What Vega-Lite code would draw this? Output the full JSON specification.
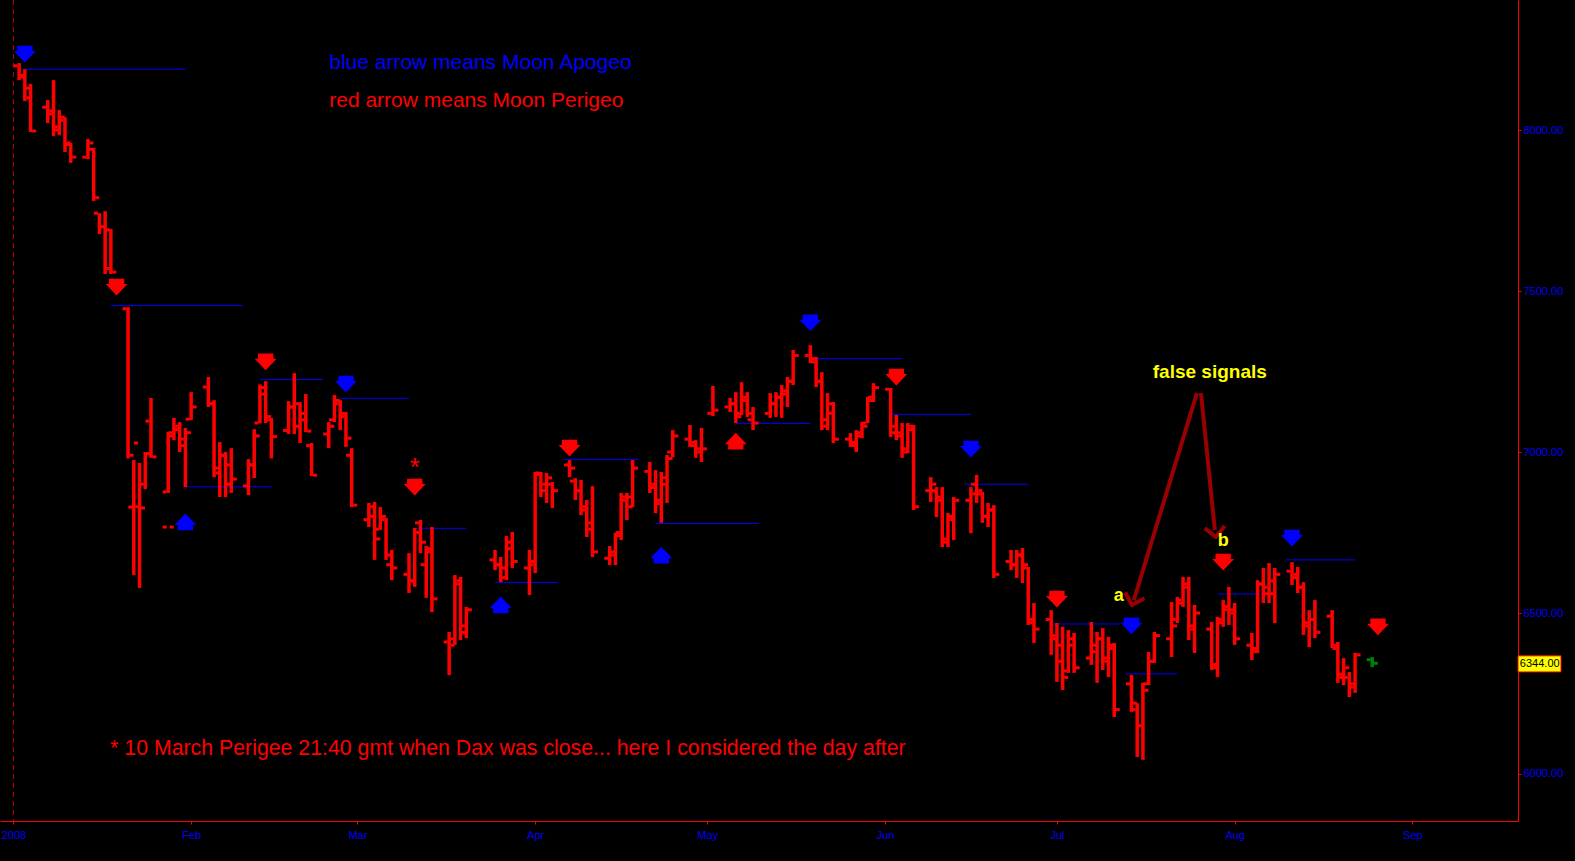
{
  "$schema": "https://vega.github.io/schema/vega-lite/v6.json",
  "width": 1518,
  "height": 821,
  "autosize": {"type": "none"},
  "padding": {"left": 0, "top": 0, "right": 57, "bottom": 40},
  "background": "#000000",
  "config": {
    "view": {"stroke": null},
    "axisY": {
      "labelColor": "#0000FF",
      "labelFont": "Liberation Sans",
      "labelFontSize": 11,
      "labelPadding": 2,
      "tickColor": "#FF0000",
      "tickSize": 3,
      "domainColor": "#FF0000",
      "domainWidth": 1,
      "grid": false,
      "format": ".2f"
    }
  },
  "datasets": {
    "ohlc": [
      {"d":"2008-01-02","o":8200,"h":8208,"l":8155,"c":8165},
      {"d":"2008-01-03","o":8170,"h":8189,"l":8090,"c":8100},
      {"d":"2008-01-04","o":8130,"h":8143,"l":7994,"c":7997},
      {"d":"2008-01-07","o":8071,"h":8093,"l":8022,"c":8060},
      {"d":"2008-01-08","o":8050,"h":8155,"l":7981,"c":8000},
      {"d":"2008-01-09","o":8010,"h":8062,"l":7984,"c":8040},
      {"d":"2008-01-10","o":8030,"h":8040,"l":7932,"c":7960},
      {"d":"2008-01-11","o":7955,"h":7960,"l":7898,"c":7916},
      {"d":"2008-01-14","o":7916,"h":7972,"l":7910,"c":7960},
      {"d":"2008-01-15","o":7940,"h":7945,"l":7780,"c":7790},
      {"d":"2008-01-16","o":7742,"h":7742,"l":7677,"c":7700},
      {"d":"2008-01-17","o":7700,"h":7748,"l":7553,"c":7570},
      {"d":"2008-01-18","o":7690,"h":7693,"l":7553,"c":7559},
      {"d":"2008-01-21","o":7445,"h":7450,"l":6980,"c":6990},
      {"d":"2008-01-22","o":6829,"h":6975,"l":6618,"c":6830},
      {"d":"2008-01-23","o":7028,"h":6966,"l":6578,"c":6826},
      {"d":"2008-01-24","o":6900,"h":7000,"l":6885,"c":6995},
      {"d":"2008-01-25","o":7096,"h":7168,"l":6982,"c":6985},
      {"d":"2008-01-28","o":6767,"h":6767,"l":6767,"c":6767},
      {"d":"2008-01-28","o":6876,"h":7062,"l":6873,"c":7050},
      {"d":"2008-01-29","o":7060,"h":7106,"l":7037,"c":7080},
      {"d":"2008-01-30","o":7070,"h":7093,"l":7000,"c":7020},
      {"d":"2008-01-31","o":7040,"h":7075,"l":6891,"c":7060},
      {"d":"2008-02-01","o":7102,"h":7186,"l":7099,"c":7140},
      {"d":"2008-02-04","o":7202,"h":7233,"l":7140,"c":7150},
      {"d":"2008-02-05","o":7150,"h":7161,"l":6922,"c":6935},
      {"d":"2008-02-06","o":6950,"h":7031,"l":6860,"c":6990},
      {"d":"2008-02-07","o":6990,"h":7000,"l":6860,"c":6900},
      {"d":"2008-02-08","o":6960,"h":7012,"l":6873,"c":6916},
      {"d":"2008-02-11","o":6895,"h":6978,"l":6866,"c":6960},
      {"d":"2008-02-12","o":6960,"h":7071,"l":6919,"c":7050},
      {"d":"2008-02-13","o":7090,"h":7210,"l":7089,"c":7180},
      {"d":"2008-02-14","o":7200,"h":7220,"l":7090,"c":7110},
      {"d":"2008-02-15","o":7100,"h":7106,"l":6980,"c":7048},
      {"d":"2008-02-18","o":7067,"h":7158,"l":7056,"c":7140},
      {"d":"2008-02-19","o":7140,"h":7245,"l":7056,"c":7080},
      {"d":"2008-02-20","o":7150,"h":7155,"l":7028,"c":7100},
      {"d":"2008-02-21","o":7120,"h":7180,"l":7062,"c":7065},
      {"d":"2008-02-22","o":7020,"h":7028,"l":6925,"c":6928},
      {"d":"2008-02-25","o":7056,"h":7093,"l":7012,"c":7080},
      {"d":"2008-02-26","o":7100,"h":7177,"l":7093,"c":7160},
      {"d":"2008-02-27","o":7150,"h":7161,"l":7068,"c":7120},
      {"d":"2008-02-28","o":7110,"h":7124,"l":7016,"c":7043},
      {"d":"2008-02-29","o":6990,"h":7012,"l":6829,"c":6835},
      {"d":"2008-03-03","o":6790,"h":6842,"l":6767,"c":6830},
      {"d":"2008-03-04","o":6800,"h":6845,"l":6665,"c":6730},
      {"d":"2008-03-05","o":6760,"h":6829,"l":6758,"c":6800},
      {"d":"2008-03-06","o":6790,"h":6795,"l":6665,"c":6680},
      {"d":"2008-03-07","o":6650,"h":6696,"l":6602,"c":6640},
      {"d":"2008-03-10","o":6620,"h":6686,"l":6562,"c":6600},
      {"d":"2008-03-11","o":6600,"h":6764,"l":6581,"c":6750},
      {"d":"2008-03-12","o":6780,"h":6789,"l":6686,"c":6720},
      {"d":"2008-03-13","o":6650,"h":6708,"l":6547,"c":6690},
      {"d":"2008-03-14","o":6700,"h":6767,"l":6503,"c":6544},
      {"d":"2008-03-17","o":6410,"h":6441,"l":6307,"c":6400},
      {"d":"2008-03-18","o":6420,"h":6618,"l":6401,"c":6600},
      {"d":"2008-03-19","o":6590,"h":6612,"l":6416,"c":6440},
      {"d":"2008-03-20","o":6460,"h":6519,"l":6422,"c":6510},
      {"d":"2008-03-25","o":6665,"h":6696,"l":6633,"c":6650},
      {"d":"2008-03-26","o":6650,"h":6674,"l":6596,"c":6610},
      {"d":"2008-03-27","o":6640,"h":6739,"l":6602,"c":6720},
      {"d":"2008-03-28","o":6700,"h":6752,"l":6640,"c":6660},
      {"d":"2008-03-31","o":6640,"h":6696,"l":6556,"c":6660},
      {"d":"2008-04-01","o":6650,"h":6938,"l":6624,"c":6930},
      {"d":"2008-04-02","o":6935,"h":6938,"l":6860,"c":6900},
      {"d":"2008-04-03","o":6880,"h":6935,"l":6842,"c":6920},
      {"d":"2008-04-04","o":6900,"h":6907,"l":6826,"c":6880},
      {"d":"2008-04-07","o":6960,"h":6975,"l":6922,"c":6950},
      {"d":"2008-04-08","o":6910,"h":6919,"l":6851,"c":6880},
      {"d":"2008-04-09","o":6880,"h":6913,"l":6804,"c":6830},
      {"d":"2008-04-10","o":6820,"h":6851,"l":6736,"c":6760},
      {"d":"2008-04-11","o":6780,"h":6894,"l":6674,"c":6690},
      {"d":"2008-04-14","o":6670,"h":6708,"l":6649,"c":6690},
      {"d":"2008-04-15","o":6680,"h":6749,"l":6649,"c":6740},
      {"d":"2008-04-16","o":6750,"h":6873,"l":6727,"c":6860},
      {"d":"2008-04-17","o":6850,"h":6873,"l":6789,"c":6830},
      {"d":"2008-04-18","o":6860,"h":6975,"l":6829,"c":6950},
      {"d":"2008-04-21","o":6940,"h":6969,"l":6873,"c":6900},
      {"d":"2008-04-22","o":6890,"h":6944,"l":6810,"c":6850},
      {"d":"2008-04-23","o":6840,"h":6938,"l":6780,"c":6920},
      {"d":"2008-04-24","o":6900,"h":6991,"l":6842,"c":6980},
      {"d":"2008-04-25","o":7000,"h":7068,"l":6984,"c":7050},
      {"d":"2008-04-28","o":7040,"h":7084,"l":7016,"c":7030},
      {"d":"2008-04-29","o":7020,"h":7037,"l":6982,"c":7000},
      {"d":"2008-04-30","o":7010,"h":7075,"l":6969,"c":7010},
      {"d":"2008-05-02","o":7120,"h":7205,"l":7112,"c":7130},
      {"d":"2008-05-05","o":7140,"h":7168,"l":7124,"c":7150},
      {"d":"2008-05-06","o":7150,"h":7186,"l":7090,"c":7110},
      {"d":"2008-05-07","o":7120,"h":7217,"l":7115,"c":7170},
      {"d":"2008-05-08","o":7160,"h":7186,"l":7109,"c":7120},
      {"d":"2008-05-09","o":7100,"h":7140,"l":7068,"c":7090},
      {"d":"2008-05-12","o":7120,"h":7183,"l":7106,"c":7150},
      {"d":"2008-05-13","o":7150,"h":7186,"l":7109,"c":7170},
      {"d":"2008-05-14","o":7170,"h":7208,"l":7106,"c":7190},
      {"d":"2008-05-15","o":7180,"h":7233,"l":7140,"c":7220},
      {"d":"2008-05-16","o":7220,"h":7317,"l":7208,"c":7300},
      {"d":"2008-05-19","o":7300,"h":7332,"l":7276,"c":7290},
      {"d":"2008-05-20","o":7280,"h":7295,"l":7202,"c":7220},
      {"d":"2008-05-21","o":7220,"h":7248,"l":7068,"c":7080},
      {"d":"2008-05-22","o":7100,"h":7183,"l":7068,"c":7150},
      {"d":"2008-05-23","o":7120,"h":7155,"l":7028,"c":7040},
      {"d":"2008-05-26","o":7040,"h":7059,"l":7016,"c":7030},
      {"d":"2008-05-27","o":7020,"h":7068,"l":7000,"c":7050},
      {"d":"2008-05-28","o":7060,"h":7093,"l":7043,"c":7080},
      {"d":"2008-05-29","o":7090,"h":7171,"l":7090,"c":7160},
      {"d":"2008-05-30","o":7170,"h":7214,"l":7155,"c":7200},
      {"d":"2008-06-02","o":7195,"h":7199,"l":7047,"c":7060},
      {"d":"2008-06-03","o":7080,"h":7115,"l":7037,"c":7050},
      {"d":"2008-06-04","o":7060,"h":7090,"l":6982,"c":7000},
      {"d":"2008-06-05","o":7010,"h":7090,"l":6997,"c":7080},
      {"d":"2008-06-06","o":7070,"h":7084,"l":6820,"c":6830},
      {"d":"2008-06-09","o":6880,"h":6922,"l":6845,"c":6900},
      {"d":"2008-06-10","o":6880,"h":6891,"l":6798,"c":6850},
      {"d":"2008-06-11","o":6860,"h":6891,"l":6705,"c":6720},
      {"d":"2008-06-12","o":6730,"h":6811,"l":6705,"c":6790},
      {"d":"2008-06-13","o":6800,"h":6860,"l":6727,"c":6850},
      {"d":"2008-06-16","o":6850,"h":6891,"l":6748,"c":6870},
      {"d":"2008-06-17","o":6900,"h":6929,"l":6842,"c":6880},
      {"d":"2008-06-18","o":6870,"h":6876,"l":6780,"c":6800},
      {"d":"2008-06-19","o":6800,"h":6842,"l":6767,"c":6820},
      {"d":"2008-06-20","o":6820,"h":6835,"l":6609,"c":6620},
      {"d":"2008-06-23","o":6660,"h":6696,"l":6633,"c":6650},
      {"d":"2008-06-24","o":6650,"h":6696,"l":6609,"c":6680},
      {"d":"2008-06-25","o":6680,"h":6702,"l":6593,"c":6650},
      {"d":"2008-06-26","o":6640,"h":6643,"l":6463,"c":6480},
      {"d":"2008-06-27","o":6470,"h":6531,"l":6407,"c":6450},
      {"d":"2008-06-30","o":6480,"h":6509,"l":6370,"c":6420},
      {"d":"2008-07-01","o":6430,"h":6469,"l":6286,"c":6350},
      {"d":"2008-07-02","o":6400,"h":6457,"l":6261,"c":6300},
      {"d":"2008-07-03","o":6320,"h":6447,"l":6314,"c":6420},
      {"d":"2008-07-04","o":6400,"h":6438,"l":6314,"c":6330},
      {"d":"2008-07-07","o":6360,"h":6472,"l":6339,"c":6400},
      {"d":"2008-07-08","o":6380,"h":6441,"l":6283,"c":6420},
      {"d":"2008-07-09","o":6420,"h":6453,"l":6323,"c":6350},
      {"d":"2008-07-10","o":6360,"h":6426,"l":6301,"c":6400},
      {"d":"2008-07-11","o":6390,"h":6407,"l":6177,"c":6200},
      {"d":"2008-07-14","o":6280,"h":6308,"l":6193,"c":6220},
      {"d":"2008-07-15","o":6200,"h":6220,"l":6053,"c":6150},
      {"d":"2008-07-16","o":6150,"h":6283,"l":6044,"c":6260},
      {"d":"2008-07-17","o":6280,"h":6379,"l":6276,"c":6350},
      {"d":"2008-07-18","o":6350,"h":6441,"l":6345,"c":6430},
      {"d":"2008-07-21","o":6420,"h":6534,"l":6363,"c":6460},
      {"d":"2008-07-22","o":6480,"h":6550,"l":6469,"c":6530},
      {"d":"2008-07-23","o":6540,"h":6612,"l":6519,"c":6580},
      {"d":"2008-07-24","o":6590,"h":6612,"l":6416,"c":6450},
      {"d":"2008-07-25","o":6460,"h":6525,"l":6376,"c":6500},
      {"d":"2008-07-28","o":6450,"h":6472,"l":6323,"c":6340},
      {"d":"2008-07-29","o":6330,"h":6488,"l":6301,"c":6470},
      {"d":"2008-07-30","o":6480,"h":6540,"l":6457,"c":6520},
      {"d":"2008-07-31","o":6510,"h":6581,"l":6463,"c":6500},
      {"d":"2008-08-01","o":6510,"h":6531,"l":6401,"c":6420},
      {"d":"2008-08-04","o":6400,"h":6438,"l":6354,"c":6380},
      {"d":"2008-08-05","o":6390,"h":6602,"l":6376,"c":6590},
      {"d":"2008-08-06","o":6590,"h":6640,"l":6531,"c":6560},
      {"d":"2008-08-07","o":6580,"h":6655,"l":6531,"c":6600},
      {"d":"2008-08-08","o":6560,"h":6640,"l":6469,"c":6620},
      {"d":"2008-08-11","o":6630,"h":6658,"l":6587,"c":6620},
      {"d":"2008-08-12","o":6610,"h":6643,"l":6562,"c":6580},
      {"d":"2008-08-13","o":6580,"h":6596,"l":6432,"c":6460},
      {"d":"2008-08-14","o":6470,"h":6509,"l":6394,"c":6480},
      {"d":"2008-08-15","o":6480,"h":6540,"l":6422,"c":6440},
      {"d":"2008-08-18","o":6490,"h":6509,"l":6391,"c":6400},
      {"d":"2008-08-19","o":6390,"h":6410,"l":6283,"c":6300},
      {"d":"2008-08-20","o":6310,"h":6360,"l":6276,"c":6330},
      {"d":"2008-08-21","o":6300,"h":6317,"l":6239,"c":6280},
      {"d":"2008-08-22","o":6270,"h":6376,"l":6252,"c":6370}
    ]
  },
  "encoding": {
    "x": {
      "field": "d",
      "type": "temporal",
      "scale": {
        "type": "utc",
        "nice": false,
        "domain": [
          {"year": 2007, "month": 12, "date": 29, "hours": 16, "utc": true},
          {"year": 2008, "month": 9, "date": 19, "hours": 10, "utc": true}
        ]
      },
      "axis": {
        "title": null,
        "values": [
          {"year": 2008, "month": 1, "date": 1, "utc": true},
          {"year": 2008, "month": 2, "date": 1, "utc": true},
          {"year": 2008, "month": 3, "date": 1, "utc": true},
          {"year": 2008, "month": 4, "date": 1, "utc": true},
          {"year": 2008, "month": 5, "date": 1, "utc": true},
          {"year": 2008, "month": 6, "date": 1, "utc": true},
          {"year": 2008, "month": 7, "date": 1, "utc": true},
          {"year": 2008, "month": 8, "date": 1, "utc": true},
          {"year": 2008, "month": 9, "date": 1, "utc": true}
        ],
        "labelExpr": "utcmonth(datum.value) == 0 ? '2008' : utcFormat(datum.value, '%b')",
        "labelColor": "#0000FF",
        "labelFont": "Liberation Sans",
        "labelFontSize": 11,
        "labelPadding": 5,
        "labelOverlap": false,
        "labelFlush": false,
        "tickColor": "#FF0000",
        "tickSize": 3,
        "domainColor": "#FF0000",
        "domainWidth": 1,
        "grid": false
      }
    }
  },
  "layer": [
    {
      "data": {"values": [{"d": "2008-01-01"}]},
      "mark": {"type": "rule", "color": "#C80000", "strokeWidth": 1, "strokeDash": [5, 4]}
    },
    {
      "data": {"values": [
        {"d":"2008-01-03","d2":"2008-01-31","v":8189},
        {"d":"2008-01-18","d2":"2008-02-10","v":7455},
        {"d":"2008-01-31","d2":"2008-02-15","v":6892},
        {"d":"2008-02-13","d2":"2008-02-24","v":7225},
        {"d":"2008-02-27","d2":"2008-03-10","v":7167},
        {"d":"2008-03-11","d2":"2008-03-20","v":6763},
        {"d":"2008-03-25","d2":"2008-04-05","v":6595},
        {"d":"2008-04-06","d2":"2008-04-19","v":6977},
        {"d":"2008-04-22","d2":"2008-05-10","v":6778},
        {"d":"2008-05-06","d2":"2008-05-19","v":7089},
        {"d":"2008-05-19","d2":"2008-06-04","v":7290},
        {"d":"2008-06-02","d2":"2008-06-16","v":7117},
        {"d":"2008-06-15","d2":"2008-06-26","v":6900},
        {"d":"2008-06-30","d2":"2008-07-12","v":6466},
        {"d":"2008-07-13","d2":"2008-07-22","v":6311},
        {"d":"2008-07-29","d2":"2008-08-06","v":6559},
        {"d":"2008-08-10","d2":"2008-08-22","v":6665}
      ]},
      "mark": {"type": "rule", "color": "#0000FF", "strokeWidth": 1},
      "encoding": {
        "x2": {"field": "d2"},
        "y": {
          "field": "v",
          "type": "quantitative",
          "scale": {"domain": [5854, 8404], "nice": false, "zero": false},
          "axis": {"orient": "right", "title": null, "values": [6000, 6500, 7000, 7500, 8000]}
        }
      }
    },
    {
      "data": {"name": "ohlc"},
      "mark": {"type": "rule", "color": "#FF0000", "strokeWidth": 3.5},
      "encoding": {
        "y": {"field": "l", "type": "quantitative", "axis": {"orient": "right", "title": null, "values": [6000, 6500, 7000, 7500, 8000]}},
        "y2": {"field": "h"}
      }
    },
    {
      "data": {"name": "ohlc"},
      "mark": {"type": "tick", "orient": "horizontal", "size": 4, "thickness": 3, "xOffset": -3.5, "color": "#FF0000", "opacity": 1},
      "encoding": {"y": {"field": "o", "type": "quantitative", "axis": {"orient": "right", "title": null, "values": [6000, 6500, 7000, 7500, 8000]}}}
    },
    {
      "data": {"name": "ohlc"},
      "mark": {"type": "tick", "orient": "horizontal", "size": 4, "thickness": 3, "xOffset": 3.5, "color": "#FF0000", "opacity": 1},
      "encoding": {"y": {"field": "c", "type": "quantitative", "axis": {"orient": "right", "title": null, "values": [6000, 6500, 7000, 7500, 8000]}}}
    },
    {
      "data": {"values": [{"d": "2008-08-25", "o": 6355, "h": 6363, "l": 6332, "c": 6344}]},
      "mark": {"type": "rule", "color": "#008000", "strokeWidth": 3.5},
      "encoding": {"y": {"field": "l", "type": "quantitative", "axis": {"orient": "right", "title": null, "values": [6000, 6500, 7000, 7500, 8000]}}, "y2": {"field": "h"}}
    },
    {
      "data": {"values": [{"d": "2008-08-25", "o": 6355, "h": 6363, "l": 6332, "c": 6344}]},
      "mark": {"type": "tick", "orient": "horizontal", "size": 4, "thickness": 3, "xOffset": -3.5, "color": "#008000", "opacity": 1},
      "encoding": {"y": {"field": "o", "type": "quantitative", "axis": {"orient": "right", "title": null, "values": [6000, 6500, 7000, 7500, 8000]}}}
    },
    {
      "data": {"values": [{"d": "2008-08-25", "o": 6355, "h": 6363, "l": 6332, "c": 6344}]},
      "mark": {"type": "tick", "orient": "horizontal", "size": 4, "thickness": 3, "xOffset": 3.5, "color": "#008000", "opacity": 1},
      "encoding": {"y": {"field": "c", "type": "quantitative", "axis": {"orient": "right", "title": null, "values": [6000, 6500, 7000, 7500, 8000]}}}
    },
    {
      "data": {"values": [
        {"d":"2008-01-03","v":8236,"moon":"apogee","dir":"down"},
        {"d":"2008-01-19","v":7512,"moon":"perigee","dir":"down"},
        {"d":"2008-01-31","v":6783,"moon":"apogee","dir":"up"},
        {"d":"2008-02-14","v":7280,"moon":"perigee","dir":"down"},
        {"d":"2008-02-28","v":7211,"moon":"apogee","dir":"down"},
        {"d":"2008-03-11","v":6891,"moon":"perigee","dir":"down"},
        {"d":"2008-03-26","v":6525,"moon":"apogee","dir":"up"},
        {"d":"2008-04-07","v":7012,"moon":"perigee","dir":"down"},
        {"d":"2008-04-23","v":6680,"moon":"apogee","dir":"up"},
        {"d":"2008-05-06","v":7034,"moon":"perigee","dir":"up"},
        {"d":"2008-05-19","v":7401,"moon":"apogee","dir":"down"},
        {"d":"2008-06-03","v":7233,"moon":"perigee","dir":"down"},
        {"d":"2008-06-16","v":7009,"moon":"apogee","dir":"down"},
        {"d":"2008-07-01","v":6543,"moon":"perigee","dir":"down"},
        {"d":"2008-07-14","v":6460,"moon":"apogee","dir":"down"},
        {"d":"2008-07-30","v":6658,"moon":"perigee","dir":"down"},
        {"d":"2008-08-11","v":6733,"moon":"apogee","dir":"down"},
        {"d":"2008-08-26","v":6457,"moon":"perigee","dir":"down"}
      ]},
      "mark": {"type": "point", "filled": true, "size": 480, "opacity": 1, "strokeWidth": 0},
      "encoding": {
        "y": {"field": "v", "type": "quantitative", "axis": {"orient": "right", "title": null, "values": [6000, 6500, 7000, 7500, 8000]}},
        "shape": {
          "field": "dir", "type": "nominal", "legend": null,
          "scale": {"domain": ["down", "up"], "range": [
            "M-0.7,-0.76L0.7,-0.76L0.7,-0.28L1,-0.28L0,0.77L-1,-0.28L-0.7,-0.28Z",
            "M-0.7,0.76L0.7,0.76L0.7,0.28L1,0.28L0,-0.77L-1,0.28L-0.7,0.28Z"
          ]}
        },
        "color": {
          "field": "moon", "type": "nominal", "legend": null,
          "scale": {"domain": ["apogee", "perigee"], "range": ["#0000FF", "#FF0000"]}
        }
      }
    },
    {
      "data": {"values": [
        {"d": "2008-07-25T10:00:00Z", "v": 7183, "d2": "2008-07-14T10:00:00Z", "v2": 6540},
        {"d": "2008-07-26T03:00:00Z", "v": 7183, "d2": "2008-07-28T13:00:00Z", "v2": 6758}
      ]},
      "mark": {"type": "rule", "color": "#9B0000", "strokeWidth": 4},
      "encoding": {
        "y": {"field": "v", "type": "quantitative", "axis": {"orient": "right", "title": null, "values": [6000, 6500, 7000, 7500, 8000]}},
        "x2": {"field": "d2"},
        "y2": {"field": "v2"}
      }
    },
    {
      "data": {"values": [{"d": "2008-07-14T02:00:00Z", "v": 6525}]},
      "mark": {"type": "point", "shape": "M-1,-1L0,0L1,-1", "filled": false, "size": 400, "strokeWidth": 4, "color": "#9B0000", "opacity": 1, "angle": 17},
      "encoding": {"y": {"field": "v", "type": "quantitative", "axis": {"orient": "right", "title": null, "values": [6000, 6500, 7000, 7500, 8000]}}}
    },
    {
      "data": {"values": [{"d": "2008-07-28T17:00:00Z", "v": 6736}]},
      "mark": {"type": "point", "shape": "M-1,-1L0,0L1,-1", "filled": false, "size": 400, "strokeWidth": 4, "color": "#9B0000", "opacity": 1, "angle": -6},
      "encoding": {"y": {"field": "v", "type": "quantitative", "axis": {"orient": "right", "title": null, "values": [6000, 6500, 7000, 7500, 8000]}}}
    },
    {
      "data": {"values": [
        {"d": "2008-02-25T02:00:00Z", "v": 8189, "t": "blue arrow means Moon Apogeo"}
      ]},
      "mark": {"type": "text", "font": "Liberation Sans", "fontSize": 21, "color": "#0000FF", "align": "left", "baseline": "alphabetic"},
      "encoding": {"y": {"field": "v", "type": "quantitative", "axis": {"orient": "right", "title": null, "values": [6000, 6500, 7000, 7500, 8000]}}, "text": {"field": "t"}}
    },
    {
      "data": {"values": [
        {"d": "2008-02-25T02:00:00Z", "v": 8073, "t": "red arrow means Moon Perigeo"}
      ]},
      "mark": {"type": "text", "font": "Liberation Sans", "fontSize": 21, "color": "#FF0000", "align": "left", "baseline": "alphabetic"},
      "encoding": {"y": {"field": "v", "type": "quantitative", "axis": {"orient": "right", "title": null, "values": [6000, 6500, 7000, 7500, 8000]}}, "text": {"field": "t"}}
    },
    {
      "data": {"values": [
        {"d": "2008-01-17T21:00:00Z", "v": 6059, "t": "* 10 March Perigee 21:40 gmt when Dax was close... here I considered the day after"}
      ]},
      "mark": {"type": "text", "font": "Liberation Sans", "fontSize": 21.3, "color": "#FF0000", "align": "left", "baseline": "alphabetic"},
      "encoding": {"y": {"field": "v", "type": "quantitative", "axis": {"orient": "right", "title": null, "values": [6000, 6500, 7000, 7500, 8000]}}, "text": {"field": "t"}}
    },
    {
      "data": {"values": [{"d": "2008-03-11", "v": 6966, "t": "*"}]},
      "mark": {"type": "text", "font": "Liberation Sans", "fontSize": 26, "color": "#FF0000", "align": "center", "baseline": "middle", "dy": 5},
      "encoding": {"y": {"field": "v", "type": "quantitative", "axis": {"orient": "right", "title": null, "values": [6000, 6500, 7000, 7500, 8000]}}, "text": {"field": "t"}}
    },
    {
      "data": {"values": [
        {"d": "2008-07-27T16:00:00Z", "v": 7248, "t": "false signals"}
      ]},
      "mark": {"type": "text", "font": "Liberation Sans", "fontSize": 19, "fontWeight": "bold", "color": "#FFFF00", "align": "center", "baseline": "middle"},
      "encoding": {"y": {"field": "v", "type": "quantitative", "axis": {"orient": "right", "title": null, "values": [6000, 6500, 7000, 7500, 8000]}}, "text": {"field": "t"}}
    },
    {
      "data": {"values": [
        {"d": "2008-07-11T19:00:00Z", "v": 6553, "t": "a"},
        {"d": "2008-07-30T00:00:00Z", "v": 6724, "t": "b"}
      ]},
      "mark": {"type": "text", "font": "Liberation Sans", "fontSize": 18, "fontWeight": "bold", "color": "#FFFF00", "align": "center", "baseline": "middle"},
      "encoding": {"y": {"field": "v", "type": "quantitative", "axis": {"orient": "right", "title": null, "values": [6000, 6500, 7000, 7500, 8000]}}, "text": {"field": "t"}}
    },
    {
      "data": {"values": [{"d": "2008-09-19T10:00:00Z", "d2": "2008-09-26T22:00:00Z", "v": 6367, "v2": 6317}]},
      "mark": {"type": "rect", "fill": "#FFFF00", "stroke": "#FF0000", "strokeWidth": 1},
      "encoding": {
        "x2": {"field": "d2"},
        "y": {"field": "v", "type": "quantitative", "axis": {"orient": "right", "title": null, "values": [6000, 6500, 7000, 7500, 8000]}},
        "y2": {"field": "v2"}
      }
    },
    {
      "data": {"values": [{"d": "2008-09-23T05:00:00Z", "v": 6342, "t": "6344.00"}]},
      "mark": {"type": "text", "font": "Liberation Sans", "fontSize": 11, "color": "#000000", "align": "center", "baseline": "middle"},
      "encoding": {"y": {"field": "v", "type": "quantitative", "axis": {"orient": "right", "title": null, "values": [6000, 6500, 7000, 7500, 8000]}}, "text": {"field": "t"}}
    }
  ]
}
